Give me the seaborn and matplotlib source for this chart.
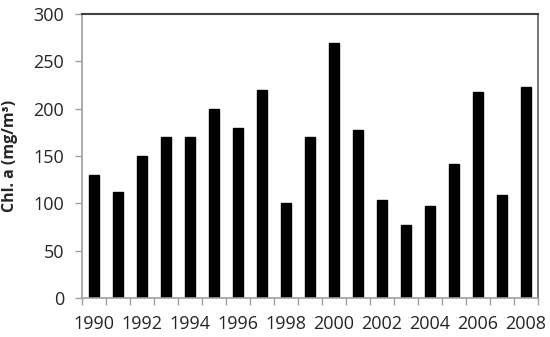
import matplotlib
matplotlib.use("Agg")
import matplotlib.pyplot as plt
import seaborn as sns
import pandas as pd
import numpy as np

years = [str(y) for y in range(1990, 2009)]
chl_a = [130, 112, 150, 170, 170, 200, 180, 220, 100, 170, 270, 178, 104, 77, 97, 142, 218, 109, 223]
y_ticks = [0, 50, 100, 150, 200, 250, 300]

sns.set_style("white")
plt.rcParams['font.family'] = ['Open Sans', 'DejaVu Sans']

df = pd.DataFrame({"year": years, "chl": chl_a})

fig = plt.figure(figsize=(5.5, 3.37), dpi=100)
ax = fig.add_axes([0.149, 0.116, 0.829, 0.842])
sns.barplot(data=df, x="year", y="chl", color="black", width=0.42, ax=ax, saturation=1)
for p in ax.patches:
    p.set_edgecolor("black")

ax.set_ylim(0, 300)
ax.set_xlim(-0.5, len(years) - 0.5)
ax.set_yticks(y_ticks)
ax.set_yticklabels([str(t) for t in y_ticks], fontsize=13)
major = list(range(0, len(years), 2))
ax.set_xticks(major)
ax.set_xticklabels([years[i] for i in major], fontsize=13)
ax.set_xticks(np.arange(-0.5, len(years), 1.0), minor=True)
ax.tick_params(axis="x", which="major", length=0, pad=12)
ax.tick_params(axis="x", which="minor", length=5, width=1, color="#a0a0a0", direction="out", bottom=True)
ax.tick_params(axis="y", which="major", length=5, width=1, color="#a0a0a0", direction="out", left=True, pad=8)

ax.set_xlabel("")
ax.set_ylabel("Chl. a (mg/m³)", fontsize=11.5, fontweight="bold")
ax.yaxis.set_label_coords(-0.14, 0.5)

for s in ["left", "bottom"]:
    ax.spines[s].set_color("#a0a0a0")
    ax.spines[s].set_linewidth(1.2)
ax.spines["top"].set_color("#404040")
ax.spines["top"].set_linewidth(1.5)
ax.spines["right"].set_color("#606060")
ax.spines["right"].set_linewidth(1.2)
for s in ax.spines.values():
    s.set_visible(True)

fig.savefig("out.png", dpi=100)
